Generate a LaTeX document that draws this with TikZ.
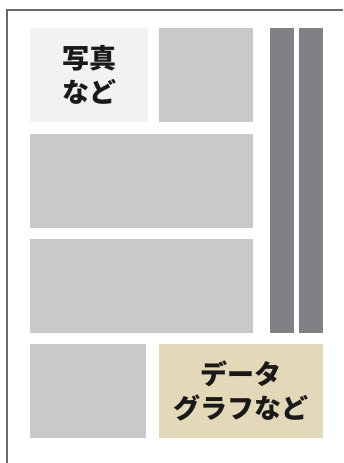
\documentclass[tikz,border=0pt]{standalone}
\usepackage{fontspec}
\newfontfamily\jpfont{Noto Sans CJK JP}
\definecolor{framegray}{RGB}{105,106,108}
\definecolor{boxgray}{RGB}{200,201,203}
\definecolor{bargray}{RGB}{128,129,132}
\definecolor{photowhite}{RGB}{241,242,244}
\definecolor{databeige}{RGB}{227,217,184}

\begin{document}
\begin{tikzpicture}[x=1pt,y=-1pt,
  block/.style={rectangle, inner sep=0pt, anchor=north west},
  label/.style={font=\jpfont\bfseries\fontsize{27}{34}\selectfont, align=center, text=black!90}]
\useasboundingbox (0,0) rectangle (343,463);
% Page frame
\draw[framegray, line width=1.8pt] (7,463) -- (7,10) -- (343,10);
% Layout blocks
\node[block, fill=photowhite, minimum width=118pt, minimum height=94pt] (photo) at (30,28) {};
\node[block, fill=boxgray, minimum width=94pt, minimum height=94pt] (img) at (159,28) {};
\node[block, fill=bargray, minimum width=24pt, minimum height=305pt] (barA) at (270,28) {};
\node[block, fill=bargray, minimum width=24pt, minimum height=305pt] (barB) at (299,28) {};
\node[block, fill=boxgray, minimum width=223pt, minimum height=94pt] (textA) at (30,134) {};
\node[block, fill=boxgray, minimum width=223pt, minimum height=94pt] (textB) at (30,239) {};
\node[block, fill=boxgray, minimum width=116pt, minimum height=94pt] (small) at (30,344) {};
\node[block, fill=databeige, minimum width=164pt, minimum height=94pt] (data) at (159,344) {};
% Labels
\node[label] (photolbl) at (photo.center) {写真\\など};
\node[label] (datalbl) at (data.center) {データ\\グラフなど};
\end{tikzpicture}
\end{document}
